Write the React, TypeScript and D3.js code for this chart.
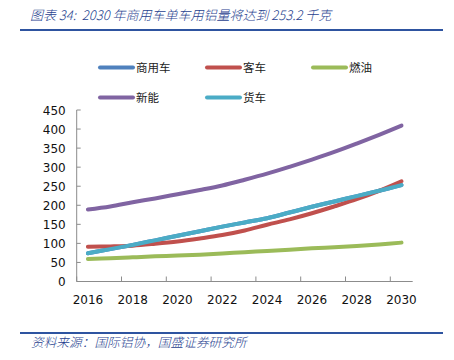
import { useEffect, useRef } from "react";
import * as d3 from "d3";

const WIDTH = 454;
const HEIGHT = 360;

const YEARS = [
  "2016", "2017", "2018", "2019", "2020", "2021", "2022", "2023",
  "2024", "2025", "2026", "2027", "2028", "2029", "2030",
];
const X_TICK_LABELS = ["2016", "2018", "2020", "2022", "2024", "2026", "2028", "2030"];
const Y_TICKS = [0, 50, 100, 150, 200, 250, 300, 350, 400, 450];

// 商用车 sits right under 货车 in the source chart
const COMMERCIAL = [74, 85, 96, 108, 120, 132, 144, 155, 166, 181, 196, 210, 224, 238, 253.2];
const BUS = [91, 92, 94, 99, 105, 113, 122, 134, 149, 163, 179, 197, 216, 238, 263];
const FUEL = [59, 61, 63.5, 66, 68, 70.5, 73.5, 77, 80, 83.5, 87, 90, 93, 97, 102];
const NEV = [189, 197, 208, 218, 229, 240, 252, 267, 283, 301, 320, 340, 362, 385, 409];
const TRUCK = [74, 85, 96, 108, 120, 132, 144, 155, 166, 181, 196, 210, 224, 238, 253];

const SERIES = [
  { name: "商用车", values: COMMERCIAL, color: "#4F81BD" },
  { name: "客车", values: BUS, color: "#C0504D" },
  { name: "燃油", values: FUEL, color: "#9BBB59" },
  { name: "新能", values: NEV, color: "#8064A2" },
  { name: "货车", values: TRUCK, color: "#4BACC6" },
];

const PLOT = { left: 76.7, right: 412.7, top: 110, bottom: 281.5 };
const TITLE_COLOR = "#1F3F8F";
const RULE_COLOR = "#2E54A0";
const AXIS_COLOR = "#8C8C8C";
const NUM_FONT = "'DejaVu Sans', Verdana, sans-serif";
const CJK_FONT = "'Noto Sans CJK SC', sans-serif";

function drawChart(svgEl: SVGSVGElement) {
  const svg = d3.select(svgEl);
  svg.selectAll("*").remove();

  const x = d3.scaleBand().domain(YEARS).range([PLOT.left, PLOT.right]);
  const y = d3.scaleLinear().domain([0, 450]).range([PLOT.bottom, PLOT.top]);
  const cx = (yr: string) => (x(yr) as number) + x.bandwidth() / 2;

  // title + rules
  svg.append("text")
    .attr("x", 30)
    .attr("y", 20)
    .attr("fill", TITLE_COLOR)
    .attr("font-family", CJK_FONT)
    .attr("font-style", "italic")
    .attr("font-weight", 300)
    .attr("font-size", 13)
    .attr("xml:space", "preserve")
    .text("图表 34:  2030 年商用车单车用铝量将达到 253.2 千克");
  svg.append("line")
    .attr("x1", 20).attr("x2", 443).attr("y1", 30).attr("y2", 30)
    .attr("stroke", RULE_COLOR).attr("stroke-width", 2);
  svg.append("line")
    .attr("x1", 20).attr("x2", 443).attr("y1", 333).attr("y2", 333)
    .attr("stroke", RULE_COLOR).attr("stroke-width", 2);
  svg.append("text")
    .attr("x", 31)
    .attr("y", 347)
    .attr("fill", TITLE_COLOR)
    .attr("font-family", CJK_FONT)
    .attr("font-style", "italic")
    .attr("font-weight", 300)
    .attr("font-size", 12.7)
    .text("资料来源：国际铝协，国盛证券研究所");

  // legend
  const legendPos = [
    { x: 100, y: 67.5 },
    { x: 207, y: 67.5 },
    { x: 313, y: 67.5 },
    { x: 100, y: 97.5 },
    { x: 207, y: 97.5 },
  ];
  SERIES.forEach((s, i) => {
    const p = legendPos[i];
    const row = svg.append("g").attr("transform", `translate(${p.x},${p.y})`);
    row.append("line")
      .attr("x1", 0).attr("x2", 33).attr("y1", 0).attr("y2", 0)
      .attr("stroke", s.color).attr("stroke-width", 4).attr("stroke-linecap", "round");
    row.append("text")
      .attr("x", 36).attr("y", 4.5)
      .attr("font-family", CJK_FONT)
      .attr("font-size", 11.5)
      .attr("fill", "#222")
      .text(s.name);
  });

  // y axis
  const yAxis = svg.append("g");
  yAxis.append("line")
    .attr("x1", PLOT.left).attr("x2", PLOT.left)
    .attr("y1", PLOT.top).attr("y2", PLOT.bottom)
    .attr("stroke", AXIS_COLOR);
  Y_TICKS.forEach((t) => {
    yAxis.append("line")
      .attr("x1", PLOT.left).attr("x2", PLOT.left + 4)
      .attr("y1", y(t)).attr("y2", y(t))
      .attr("stroke", AXIS_COLOR);
    yAxis.append("text")
      .attr("x", PLOT.left - 11)
      .attr("y", y(t) + 4.5)
      .attr("text-anchor", "end")
      .attr("font-family", NUM_FONT)
      .attr("font-size", 12)
      .attr("fill", "#111")
      .text(t);
  });

  // x axis
  const xAxis = svg.append("g");
  xAxis.append("line")
    .attr("x1", PLOT.left).attr("x2", PLOT.right)
    .attr("y1", PLOT.bottom).attr("y2", PLOT.bottom)
    .attr("stroke", AXIS_COLOR);
  X_TICK_LABELS.forEach((yr) => {
    const x0 = x(yr) as number;
    xAxis.append("line")
      .attr("x1", x0).attr("x2", x0)
      .attr("y1", PLOT.bottom).attr("y2", PLOT.bottom - 5)
      .attr("stroke", AXIS_COLOR);
    xAxis.append("text")
      .attr("x", cx(yr))
      .attr("y", PLOT.bottom + 22.5)
      .attr("text-anchor", "middle")
      .attr("font-family", NUM_FONT)
      .attr("font-size", 12)
      .attr("fill", "#111")
      .text(yr);
  });

  // lines
  const line = d3
    .line<number>()
    .x((_d, i) => cx(YEARS[i]))
    .y((d) => y(d))
    .curve(d3.curveCatmullRom.alpha(0.5));

  SERIES.forEach((s) => {
    svg.append("path")
      .datum(s.values)
      .attr("fill", "none")
      .attr("stroke", s.color)
      .attr("stroke-width", 4)
      .attr("stroke-linecap", "round")
      .attr("stroke-linejoin", "round")
      .attr("d", line);
  });
}

export default function App() {
  const ref = useRef<SVGSVGElement>(null);

  useEffect(() => {
    if (ref.current) drawChart(ref.current);
  }, []);

  return (
    <svg
      ref={ref}
      width={WIDTH}
      height={HEIGHT}
      viewBox={`0 0 ${WIDTH} ${HEIGHT}`}
      style={{ position: "absolute", left: 0, top: 0, background: "#fff" }}
    />
  );
}
